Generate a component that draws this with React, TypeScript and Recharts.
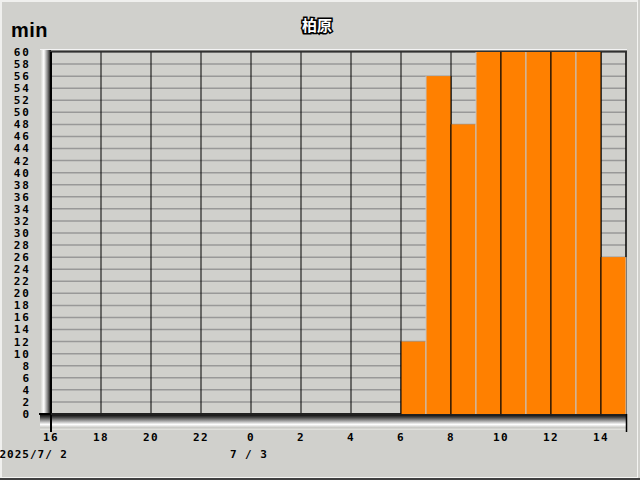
import React from "react";
import { BarChart, Bar, XAxis, YAxis, CartesianGrid, Customized } from "recharts";

const hours = ["16","17","18","19","20","21","22","23","0","1","2","3","4","5","6","7","8","9","10","11","12","13","14"];
const minutes = [0,0,0,0,0,0,0,0,0,0,0,0,0,0,12,56,48,60,60,60,60,60,26];
const yTicks = Array.from({ length: 31 }, (_, i) => i * 2);
const dateLabelIndex = [0, 8];
const dateLabelText = ["2025/7/ 2", "7 / 3"];
const title = "柏原";
const unit = "min";

const data = hours.map((h, i) => ({ h, v: minutes[i] }));

const W = 640, H = 480;
const PL = 51, PT = 52, PR = 626, PB = 414;
const XH = 30;
const BW = (PR - PL) / hours.length;
const BG = "#d0d0cc";
const MONO = "'DejaVu Sans Mono', monospace";

const XTick = (props: any) => {
  const { x, y, payload } = props;
  const idx = payload.index;
  const bx = x - BW / 2;
  const di = dateLabelIndex.indexOf(idx);
  return (
    <g>
      <text x={bx} y={y + 27} textAnchor="middle" fontFamily={MONO} fontWeight="bold" fontSize={11} letterSpacing={1.5} fill="#000">
        {payload.value}
      </text>
      {di >= 0 && (
        <text x={bx + 17} y={y + 44} textAnchor="end" fontFamily={MONO} fontWeight="bold" fontSize={11} letterSpacing={1} fill="#000">
          {dateLabelText[di]}
        </text>
      )}
    </g>
  );
};

const edgeColor = (boundary: number) => (boundary % 2 === 0 ? "#000" : "#c4c4c4");

const BarShape = (props: any) => {
  const { x, y, width, height, index } = props;
  if (!height || height <= 0) return null;
  return (
    <g>
      <rect x={x} y={y} width={width} height={height} fill="#ff8000" />
      <line x1={x} x2={x} y1={y} y2={y + height} stroke={edgeColor(index)} strokeWidth={1} />
      <line x1={x + width} x2={x + width} y1={y} y2={y + height} stroke={edgeColor(index + 1)} strokeWidth={1} />
    </g>
  );
};

const Decor = () => {
  const lines = [];
  for (let i = 0; i <= hours.length; i += 2) {
    lines.push(<line key={i} x1={PL + i * BW} x2={PL + i * BW} y1={PT} y2={PB} stroke="#000" strokeWidth={1} />);
  }
  return (
    <g>
      <defs>
        <linearGradient id="lband" x1="0" y1="0" x2="1" y2="0">
          <stop offset="0" stopColor="#c8c8c4" />
          <stop offset="0.35" stopColor="#ffffff" />
          <stop offset="0.7" stopColor="#808080" />
          <stop offset="1" stopColor="#000000" />
        </linearGradient>
        <linearGradient id="bband" x1="0" y1="0" x2="0" y2="1">
          <stop offset="0" stopColor="#000000" />
          <stop offset="0.2" stopColor="#404040" />
          <stop offset="0.65" stopColor="#ffffff" />
          <stop offset="0.85" stopColor="#c8c8c4" />
          <stop offset="1" stopColor="#e8e8e4" />
        </linearGradient>
      </defs>
      {lines}
      <line x1={PR} x2={PR} y1={PT} y2={PB} stroke="#000" strokeWidth={1.5} />
      <rect x={40} y={PT - 2} width={PL - 40} height={430 - PT + 2} fill="url(#lband)" />
      <rect x={40} y={PB} width={PR + 1 - 40} height={16} fill="url(#bband)" />
      <line x1={40} x2={PR + 1} y1={PT - 2.5} y2={PT - 2.5} stroke="#f4f4f4" strokeWidth={1} />
      <line x1={PL - 1} x2={PR + 1} y1={PT - 0.5} y2={PT - 0.5} stroke="#303030" strokeWidth={2} />
      <line x1={PL} x2={PL} y1={PT} y2={432} stroke="#000" strokeWidth={2} />
      <line x1={39} x2={PL} y1={PB} y2={PB} stroke="#000" strokeWidth={2} />
      <line x1={PL} x2={PR + 1} y1={PB} y2={PB} stroke="#202020" strokeWidth={2} />
      <line x1={PR + 0.5} x2={PR + 0.5} y1={PB} y2={432} stroke="#000" strokeWidth={1.5} />
      <text x={317} y={31} textAnchor="middle" fontFamily="'Noto Sans CJK JP', sans-serif" fontWeight="bold" fontSize={15} fill="#fff" stroke="#000" strokeWidth={3} paintOrder="stroke">
        {title}
      </text>
      <text x={11} y={37} fontFamily="'Liberation Sans', Arial, sans-serif" fontWeight="bold" fontSize={20} letterSpacing={0.5} fill="#000">
        {unit}
      </text>
    </g>
  );
};

export default function App() {
  return (
    <div style={{ position: "absolute", left: 0, top: 0, width: W, height: H, background: BG }}>
      <div style={{ position: "absolute", left: 0, top: 0, width: W - 2, height: H - 2, borderTop: "2px solid #f0f0ee", borderLeft: "2px solid #f0f0ee", borderRight: "1px solid #f4f4f2", borderBottom: "1px solid #f4f4f2", boxSizing: "border-box" }} />
      <div style={{ position: "absolute", left: 0, top: H - 2, width: W, height: 2, background: "#404040" }} />
      <div style={{ position: "absolute", left: 0, top: 0 }}>
        <BarChart width={W} height={H} data={data} margin={{ top: PT, right: W - PR, bottom: H - PB - XH, left: 0 }} barCategoryGap={0}>
          <CartesianGrid vertical={false} stroke="#989898" strokeWidth={1.5} />
          <YAxis width={PL} domain={[0, 60]} ticks={yTicks} interval={0} axisLine={false} tickLine={false} tickSize={0} tickMargin={20}
            tick={{ fontFamily: MONO, fontWeight: "bold", fontSize: 11, letterSpacing: 2, fill: "#000" }} />
          <XAxis dataKey="h" height={XH} interval={1} axisLine={false} tickLine={false} tickSize={0} tickMargin={0} tick={<XTick />} />
          <Customized component={Decor} />
          <Bar dataKey="v" shape={<BarShape />} isAnimationActive={false} />
        </BarChart>
      </div>
    </div>
  );
}
